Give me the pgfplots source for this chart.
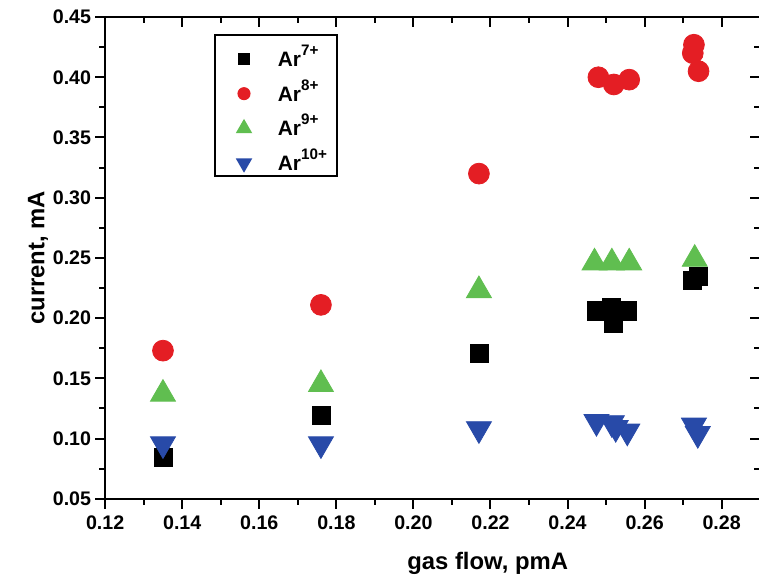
\documentclass[border=0pt]{standalone}
\usepackage{pgfplots}
\pgfplotsset{compat=1.18}
\usepackage{fontspec}
\setmainfont{Liberation Sans}

\definecolor{arred}{RGB}{228,30,36}
\definecolor{argreen}{RGB}{96,190,80}
\definecolor{arblue}{RGB}{40,74,168}

\newcommand{\charge}[1]{\raisebox{0.52em}{\fontsize{7.6}{8}\selectfont #1}}

\pgfplotsset{
  frame/.style={
    scale only axis,
    width=327pt, height=240.5pt,
    xmin=0.12, xmax=0.29,
    ymin=0.05, ymax=0.45,
    xtick distance=0.02, ytick distance=0.05,
    minor x tick num=1, minor y tick num=1,
    axis line style={line width=1pt},
    every tick/.style={black, line width=1pt},
    major tick length=5pt, minor tick length=3pt,
  },
}

\begin{document}
\begin{tikzpicture}
% ticks on top and right point inward
\begin{axis}[frame,
    tick align=inside,
    xtick pos=right, ytick pos=right,
    xticklabels={}, yticklabels={},
]
\end{axis}
\begin{axis}[frame,
    name=ax,
    tick align=outside,
    xtick pos=left, ytick pos=left,
    /pgf/number format/assume math mode=true,
    /pgf/number format/.cd, fixed, fixed zerofill, precision=2, /pgfplots/.cd,
    tick label style={font=\fontsize{9.8}{11}\selectfont\bfseries},
    yticklabel style={xshift=1.5pt},
    xlabel={gas flow, pmA},
    ylabel={current, mA},
    label style={font=\fontsize{11.9}{14}\selectfont\bfseries},
    xlabel style={at={(axis description cs:0.584,-0.1351)}, anchor=center},
    ylabel style={at={(axis description cs:-0.1024,0.5)}, anchor=center},
    legend style={at={(0.1667,0.9647)}, anchor=north west,
      draw=black, line width=0.8pt,
      font=\fontsize{10.4}{12}\selectfont\bfseries,
      row sep=1.85pt, inner xsep=3pt, inner ysep=1.5pt,
      nodes={anchor=base west, inner ysep=1pt, text height=13.2pt, text depth=0.3pt},
      /tikz/every odd column/.append style={column sep=11.5pt}},
    legend image code/.code={%
      \path (-11pt,3.7pt) (3pt,3.7pt);
      \draw[#1, scale=0.55] plot coordinates {(0pt,6.7pt)};
    },
    clip=false,
]
\addplot[only marks, mark=square*, mark size=4.5pt, black] coordinates {
  (0.135,0.084) (0.176,0.119) (0.217,0.171)
  (0.2475,0.206) (0.2515,0.209) (0.2555,0.206) (0.252,0.196)
  (0.2725,0.231) (0.274,0.235)
};
\addplot[only marks, mark=*, mark size=5.2pt, arred] coordinates {
  (0.135,0.173) (0.176,0.211) (0.217,0.320)
  (0.248,0.400) (0.252,0.394) (0.256,0.398)
  (0.2728,0.427) (0.2725,0.420) (0.274,0.405)
};
\addplot[only marks, mark=triangle*, mark size=7.2pt, argreen] coordinates {
  (0.135,0.137) (0.176,0.145) (0.217,0.223)
  (0.247,0.246) (0.2515,0.246) (0.256,0.246)
  (0.273,0.249)
};
\addplot[only marks, mark=triangle*, mark size=7.2pt, mark options={rotate=180}, arblue] coordinates {
  (0.135,0.0955) (0.176,0.0955) (0.217,0.108)
  (0.2475,0.114) (0.2515,0.113) (0.2525,0.109) (0.2555,0.106)
  (0.2728,0.111) (0.2738,0.104)
};
\legend{Ar\charge{7+},Ar\charge{8+},Ar\charge{9+},Ar\charge{10+}}
\end{axis}
\pgfresetboundingbox
\path ([xshift=-52.5pt,yshift=-39.5pt]ax.south west) rectangle ([xshift=-0.6pt,yshift=8.5pt]ax.north east);
\end{tikzpicture}
\end{document}
